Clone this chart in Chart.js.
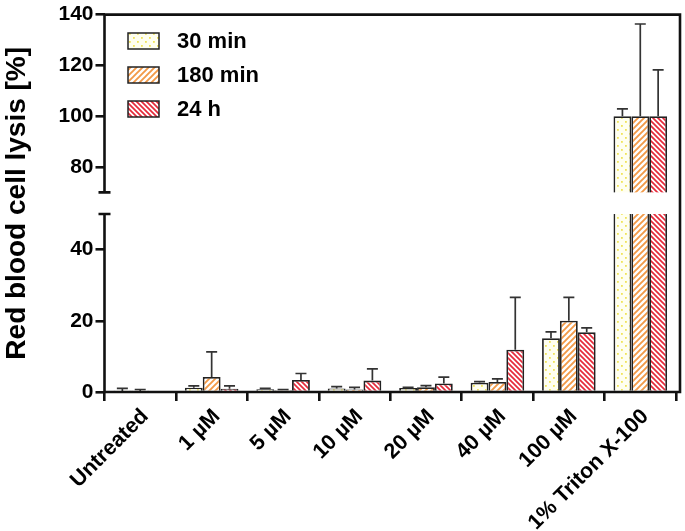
<!DOCTYPE html>
<html><head><meta charset="utf-8">
<script src="https://cdn.jsdelivr.net/npm/chart.js@4.4.0/dist/chart.umd.min.js"></script>
<style>html,body{margin:0;padding:0;background:#fff}</style>
</head><body>
<canvas id="c" width="685" height="531"></canvas>
<script>
// ---- data ----
const categories = ['Untreated', '1 \u00b5M', '5 \u00b5M', '10 \u00b5M', '20 \u00b5M', '40 \u00b5M', '100 \u00b5M', '1% Triton X-100'];
const seriesNames = ['30 min', '180 min', '24 h'];
const mean30  = [0.1, 1.2, 0.8, 1.0, 1.1, 2.6, 15.1, 100];
const err30   = [0.9, 0.5, 0.2, 0.5, 0.2, 0.3, 1.8, 2.9];
const mean180 = [0.1, 4.2, 0.5, 0.7, 1.3, 2.8, 20.0, 100];
const err180  = [0.6, 7.1, 0.2, 0.6, 0.5, 0.9, 6.6, 36.3];
const mean24  = [0, 0.9, 3.4, 3.2, 2.4, 11.9, 16.8, 100];
const err24   = [0, 0.8, 1.8, 3.3, 1.8, 14.7, 1.2, 18.2];
const yTickValues = [0, 20, 40, 80, 100, 120, 140];
const breakLow = 50, breakHigh = 70;   // axis break: 50 .. 70 is cut out

// ---- broken linear scale ----
const FR_LOW = 0.4716, FR_GAP = 0.0574;
class BrokenLinearScale extends Chart.LinearScale {
  _segs() {
    const H = this.bottom - this.top;
    const pLow = this.bottom - FR_LOW * H;
    const pHigh = pLow - FR_GAP * H;
    return {pLow, pHigh};
  }
  getPixelForValue(v) {
    if (v === null || v === undefined || isNaN(v)) return NaN;
    const {pLow, pHigh} = this._segs();
    if (v <= breakLow) return this.bottom - (v - this.min) / (breakLow - this.min) * (this.bottom - pLow);
    if (v >= breakHigh) return pHigh - (v - breakHigh) / (this.max - breakHigh) * (pHigh - this.top);
    return pLow - (v - breakLow) / (breakHigh - breakLow) * (pLow - pHigh);
  }
  getValueForPixel(p) {
    const {pLow, pHigh} = this._segs();
    if (p >= pLow) return this.min + (this.bottom - p) / (this.bottom - pLow) * (breakLow - this.min);
    if (p <= pHigh) return breakHigh + (pHigh - p) / (pHigh - this.top) * (this.max - breakHigh);
    return breakLow + (pLow - p) / (pLow - pHigh) * (breakHigh - breakLow);
  }
}
BrokenLinearScale.id = 'brokenLinear';
BrokenLinearScale.defaults = Chart.LinearScale.defaults;
Chart.register(BrokenLinearScale);

// ---- patterns ----
const cv = document.getElementById('c');
const ctx0 = cv.getContext('2d');
function makePattern(kind, color) {
  const c = document.createElement('canvas');
  const g = c.getContext('2d');
  if (kind === 'dots') {
    c.width = 8; c.height = 8;
    g.fillStyle = '#fffff0'; g.fillRect(0, 0, 8, 8);
    g.fillStyle = color;
    g.fillRect(1, 1, 1.8, 1.8); g.fillRect(5, 5, 1.8, 1.8);
  } else {
    const s = kind === 'fwd' ? 6 : 5;
    c.width = s; c.height = s;
    g.fillStyle = '#ffffff'; g.fillRect(0, 0, s, s);
    g.strokeStyle = color; g.lineWidth = kind === 'fwd' ? 1.9 : 1.7;
    g.beginPath();
    if (kind === 'fwd') {
      g.moveTo(0, s); g.lineTo(s, 0);
      g.moveTo(-1, 1); g.lineTo(1, -1);
      g.moveTo(s - 1, s + 1); g.lineTo(s + 1, s - 1);
    } else {
      g.moveTo(0, 0); g.lineTo(s, s);
      g.moveTo(-1, s - 1); g.lineTo(1, s + 1);
      g.moveTo(s - 1, -1); g.lineTo(s + 1, 1);
    }
    g.stroke();
  }
  return ctx0.createPattern(c, 'repeat');
}
const fills = [makePattern('dots', '#f0e45a'), makePattern('fwd', '#f29a48'), makePattern('back', '#e62a3a')];
const errs = [err30, err180, err24];

const FONT = "'Liberation Sans', Arial, sans-serif";

const decorPlugin = {
  id: 'decor',
  afterDatasetsDraw(chart) {
    const {ctx, chartArea: a} = chart;
    const y = chart.scales.y;
    const pHigh = y.getPixelForValue(breakHigh), pLow = y.getPixelForValue(breakLow);
    ctx.save();
    // gap across bars
    ctx.fillStyle = '#fff';
    ctx.fillRect(a.left + 1.5, pHigh, a.right - a.left + 2, pLow - pHigh);
    // error bars
    ctx.strokeStyle = '#333'; ctx.lineWidth = 1.7;
    chart.data.datasets.forEach((ds, i) => {
      const meta = chart.getDatasetMeta(i);
      meta.data.forEach((el, j) => {
        const e = errs[i][j];
        if (!e) return;
        const yt = y.getPixelForValue(ds.data[j] + e);
        ctx.beginPath();
        ctx.moveTo(el.x, el.y); ctx.lineTo(el.x, yt);
        ctx.moveTo(el.x - 5.5, yt); ctx.lineTo(el.x + 5.5, yt);
        ctx.stroke();
      });
    });
    // frame / axes
    const L = a.left, R = a.right + 4, T = y.getPixelForValue(140), B = y.getPixelForValue(0);
    ctx.strokeStyle = '#111'; ctx.lineWidth = 2.6; ctx.lineCap = 'butt';
    ctx.beginPath();
    ctx.moveTo(L, T - 1.3); ctx.lineTo(L, pHigh);
    ctx.moveTo(L - 6, pHigh); ctx.lineTo(L + 6, pHigh);
    ctx.moveTo(L - 6, pLow); ctx.lineTo(L + 6, pLow);
    ctx.moveTo(L, pLow); ctx.lineTo(L, B + 1.3);
    ctx.moveTo(L - 1.3, B); ctx.lineTo(R + 1.3, B);
    ctx.moveTo(R, B); ctx.lineTo(R, T);
    ctx.moveTo(R + 1.3, T); ctx.lineTo(L - 1.3, T);
    ctx.stroke();
    // legend
    ctx.font = 'bold 22px ' + FONT;
    ctx.textBaseline = 'middle'; ctx.textAlign = 'left';
    seriesNames.forEach((n, i) => {
      const cy = 41 + i * 34;
      ctx.fillStyle = fills[i];
      ctx.fillRect(128, cy - 8, 31, 16);
      ctx.strokeStyle = '#222'; ctx.lineWidth = 1.5;
      ctx.strokeRect(128, cy - 8, 31, 16);
      ctx.fillStyle = '#000';
      ctx.fillText(n, 177, cy + 1);
    });
    ctx.restore();
  }
};

new Chart(cv, {
  type: 'bar',
  data: {
    labels: categories,
    datasets: [
      {label: seriesNames[0], data: mean30, backgroundColor: fills[0]},
      {label: seriesNames[1], data: mean180, backgroundColor: fills[1]},
      {label: seriesNames[2], data: mean24, backgroundColor: fills[2]}
    ]
  },
  options: {
    responsive: false,
    animation: false,
    devicePixelRatio: 1,
    layout: {padding: {left: 0, right: 9, top: 13, bottom: 0}},
    datasets: {bar: {categoryPercentage: 0.75, barPercentage: 1.0, borderColor: '#222', borderWidth: 1.8, borderSkipped: 'start'}},
    plugins: {legend: {display: false}, tooltip: {enabled: false}},
    scales: {
      x: {
        type: 'category', offset: true,
        grid: {drawOnChartArea: false, drawTicks: true, tickLength: 9, color: '#111', lineWidth: 2.6},
        border: {display: false},
        ticks: {minRotation: 45, maxRotation: 45, color: '#000', padding: 3, labelOffset: 5, font: {family: FONT, size: 21.5, weight: 'bold'}},
        afterFit(s) { s.height = 139; }
      },
      y: {
        type: 'brokenLinear', min: 0, max: 140,
        grid: {drawOnChartArea: false, drawTicks: true, tickLength: 9, color: '#111', lineWidth: 2.6},
        border: {display: false},
        ticks: {color: '#000', padding: 2, font: {family: FONT, size: 21, weight: 'bold'}},
        afterBuildTicks(s) { s.ticks = yTickValues.map(v => ({value: v})); },
        title: {display: true, text: 'Red blood cell lysis [%]', color: '#000', padding: {top: 0, bottom: 0}, font: {family: FONT, size: 28, weight: 'bold'}},
        afterFit(s) { s.width = 104.5; }
      }
    }
  },
  plugins: [decorPlugin]
});
</script>
</body></html>
